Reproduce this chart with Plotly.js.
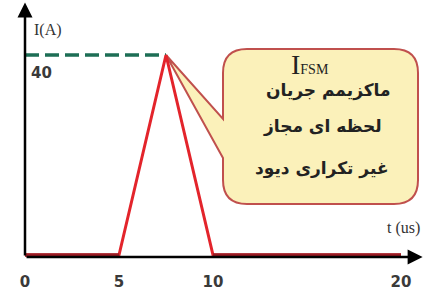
<!DOCTYPE html>
<html>
<head>
<meta charset="utf-8">
<script src="https://cdn.plot.ly/plotly-3.0.1.min.js"></script>
<style>html,body{margin:0;padding:0;background:#fff}#chart{width:423px;height:293px}</style>
</head>
<body>
<div id="chart"></div>
<script>
// ---- data ----
const timeUs = [0, 5, 7.5, 10, 20];
const currentA = [0, 0, 40, 0, 0];
const xTickVals = [0, 5, 10, 20];
const xTickText = ['0', '5', '10', '20'];
const yTickVals = [40];
const yTickText = ['40'];
const calloutTitle = 'I';
const calloutSub = 'FSM';
const calloutLines = ['ماکزیمم جریان', 'لحظه ای مجاز', 'غیر تکراری دیود'];
const xTitle = 't (us)';
const yTitle = 'I(A)';

const W = 423, H = 293;
const xRange = [-25 / 18.8, (W - 25) / 18.8];
const yRange = [-38 / 5, 255 / 5];
function px(x, y) { return (x / W).toFixed(4) + ',' + (1 - y / H).toFixed(4); }

const peakIdx = currentA.indexOf(Math.max(...currentA));
const peakT = timeUs[peakIdx], peakI = currentA[peakIdx];

// flat (zero) segments
const flatX = [timeUs[0], timeUs[1], null, timeUs[3], timeUs[4]];
const flatY = [currentA[0], currentA[1], null, currentA[3], currentA[4]];

const traces = [
  {x: [timeUs[0], peakT], y: [peakI, peakI], mode: 'lines', line: {color: '#1d6e55', width: 3.5, dash: '14px,6px'}, hoverinfo: 'skip'},
  {x: timeUs, y: currentA, mode: 'lines', line: {color: '#e3242b', width: 3}, hoverinfo: 'skip'},
  {x: flatX, y: flatY, mode: 'lines', line: {color: '#9a1c24', width: 3.5}, connectgaps: false, hoverinfo: 'skip'}
];

// bubble path (pixel-based)
const L = 223, R = 418, T = 49, B = 204, r = 24;
const path = 'M' + px(L + r, T) + ' L' + px(R - r, T) + ' Q' + px(R, T) + ' ' + px(R, T + r) +
  ' L' + px(R, B - r) + ' Q' + px(R, B) + ' ' + px(R - r, B) + ' L' + px(L + r, B) +
  ' Q' + px(L, B) + ' ' + px(L, B - r) + ' L' + px(L, 158) + ' L' + px(166, 55) +
  ' L' + px(L, 119) + ' L' + px(L, T + r) + ' Q' + px(L, T) + ' ' + px(L + r, T) + ' Z';

const tickFont = {family: 'DejaVu Sans', size: 15, weight: 'bold', color: '#3a3a3a'};

const layout = {
  width: W, height: H,
  margin: {l: 0, r: 0, t: 0, b: 0},
  paper_bgcolor: '#fff', plot_bgcolor: '#fff',
  showlegend: false,
  xaxis: {range: xRange, showgrid: false, zeroline: false, showline: false, ticks: '',
    anchor: 'free', position: 1 - 271 / H,
    tickvals: xTickVals, ticktext: xTickText, ticklabelposition: 'outside',
    tickfont: tickFont},
  yaxis: {range: yRange, showgrid: false, zeroline: false, showline: false, ticks: '',
    anchor: 'free', position: 30 / W, side: 'right',
    tickvals: yTickVals, ticktext: yTickText, ticklabelposition: 'outside',
    ticklabelshift: 18,
    tickfont: tickFont},
  shapes: [
    {type: 'path', xref: 'paper', yref: 'paper', path: path, fillcolor: '#fbf1ba',
     line: {color: '#c0504d', width: 2}, layer: 'below'}
  ],
  annotations: [
    // axes with arrows
    {x: 0, y: 50.5, ax: 0, ay: -0.4, xref: 'x', yref: 'y', axref: 'x', ayref: 'y', text: '',
     showarrow: true, arrowhead: 2, arrowsize: 1.2, arrowwidth: 2.5, arrowcolor: '#000'},
    {x: xRange[1] - 0.02, y: -0.4, ax: 0, ay: -0.4, xref: 'x', yref: 'y', axref: 'x', ayref: 'y', text: '',
     showarrow: true, arrowhead: 2, arrowsize: 1.2, arrowwidth: 2.5, arrowcolor: '#000'},
    {x: 32 / W, y: 1 - 30 / H, xref: 'paper', yref: 'paper', xanchor: 'left', yanchor: 'middle',
     text: yTitle, showarrow: false, font: {family: 'Liberation Serif', size: 16, color: '#333'}},
    {x: 422 / W, y: 1 - 228 / H, xref: 'paper', yref: 'paper', xanchor: 'right', yanchor: 'middle',
     text: xTitle, showarrow: false, font: {family: 'Liberation Serif', size: 16, color: '#333'}},
    {x: 310 / W, y: 1 - 65 / H, xref: 'paper', yref: 'paper', xanchor: 'center', yanchor: 'middle',
     text: '<span style="font-size:28px">' + calloutTitle + '</span><span style="font-size:14px">' + calloutSub + '</span>',
     showarrow: false, font: {family: 'Liberation Serif', size: 14, color: '#222'}},
    {x: 328 / W, y: 1 - 90 / H, xref: 'paper', yref: 'paper', xanchor: 'center', yanchor: 'middle',
     text: calloutLines[0], showarrow: false, font: {family: 'DejaVu Sans', size: 17, weight: 'bold', color: '#222'}},
    {x: 322 / W, y: 1 - 126 / H, xref: 'paper', yref: 'paper', xanchor: 'center', yanchor: 'middle',
     text: calloutLines[1], showarrow: false, font: {family: 'DejaVu Sans', size: 17, weight: 'bold', color: '#222'}},
    {x: 322 / W, y: 1 - 168 / H, xref: 'paper', yref: 'paper', xanchor: 'center', yanchor: 'middle',
     text: calloutLines[2], showarrow: false, font: {family: 'DejaVu Sans', size: 17, weight: 'bold', color: '#222'}}
  ]
};

Plotly.newPlot('chart', traces, layout, {staticPlot: true, displayModeBar: false});
</script>
</body>
</html>
